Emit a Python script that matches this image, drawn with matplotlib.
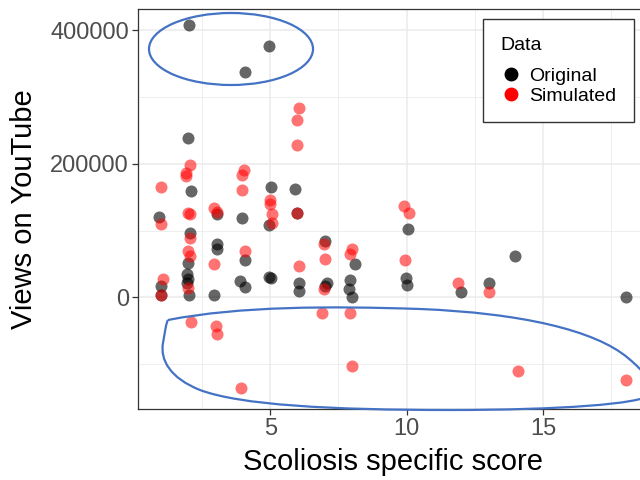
import numpy as np
import matplotlib
matplotlib.use("Agg")
import matplotlib.pyplot as plt
from matplotlib.patches import Ellipse, PathPatch
from matplotlib.path import Path
from matplotlib.lines import Line2D
from matplotlib.transforms import IdentityTransform
from matplotlib.ticker import MultipleLocator

plt.rcParams['font.family'] = ['Liberation Sans', 'DejaVu Sans']

# Original data (score, views)
orig_score = [2.02, 4.94, 4.06, 2.0, 2.08, 5.04, 5.92, 4.94, 5.98, 0.92,
              3.04, 3.96, 2.04, 3.04, 3.04, 2.0, 4.06, 0.98, 1.93, 2.0,
              1.93, 1.01, 2.02, 2.92, 3.9, 4.08, 4.94, 5.04, 6.04, 6.04,
              7.02, 7.08, 7.0, 8.09, 7.94, 7.9, 8.0, 10.05, 9.96, 10.0,
              12.0, 13.03, 13.98, 18.05]
orig_views = [407900, 377200, 338400, 238800, 159300, 165200, 162700, 108500, 126900, 120900,
              124300, 118400, 97000, 79600, 72100, 52200, 56000, 17500, 34800, 27300,
              22400, 4000, 4000, 4000, 24900, 16000, 30900, 29900, 22400, 10000,
              84600, 22400, 17500, 49700, 26400, 12400, 1000, 102000, 29900, 19000,
              7500, 21400, 61700, 0]

# Simulated data (score, views)
sim_score = [6.04, 5.98, 5.98, 2.06, 1.9, 1.9, 1.01, 4.04, 3.96, 3.96,
             5.0, 5.0, 5.08, 5.08, 5.98, 1.01, 2.0, 2.06, 2.92, 3.03,
             2.06, 2.0, 2.06, 2.94, 4.08, 1.05, 2.0, 1.01, 6.07, 6.96,
             7.02, 6.96, 8.0, 7.94, 6.9, 7.92, 2.08, 3.0, 3.04, 7.98,
             3.93, 9.9, 10.08, 9.94, 11.9, 13.03, 14.07, 18.03]
sim_views = [283600, 266100, 228800, 199000, 186600, 181600, 165200, 191500, 184000, 161600,
             146700, 139300, 124300, 111900, 126900, 109400, 126900, 125400, 134300, 128000,
             89600, 69700, 62200, 49700, 69700, 27300, 14900, 4000, 47300, 79600,
             57200, 12400, 72100, 64600, -23400, -23400, -37300, -43300, -54700, -103000,
             -135400, 136900, 126900, 56300, 22400, 7500, -109400, -124300]

fig = plt.figure(figsize=(6.4, 4.8), dpi=100)
ax = fig.add_axes([138 / 640, 71 / 480, 510 / 640, 400 / 480])

ax.scatter(orig_score, orig_views, s=75, color='black', alpha=0.6, linewidths=0, zorder=3)
ax.scatter(sim_score, sim_views, s=75, color='red', alpha=0.55, linewidths=0, zorder=3)

ax.set_xlim(0.15, 18.85)
ax.set_ylim(-167000, 432000)
ax.xaxis.set_major_locator(MultipleLocator(5))
ax.xaxis.set_minor_locator(MultipleLocator(2.5))
ax.yaxis.set_major_locator(MultipleLocator(200000))
ax.yaxis.set_minor_locator(MultipleLocator(100000))
ax.grid(which='major', color='#ebebeb', linewidth=1.1, zorder=0)
ax.grid(which='minor', color='#ebebeb', linewidth=0.6, zorder=0)
ax.set_axisbelow(True)
ax.tick_params(which='major', direction='out', length=4.5, width=0.9, color='#333333',
               labelsize=17, labelcolor='#4d4d4d', pad=2)
ax.tick_params(which='minor', length=0)
for sp in ax.spines.values():
    sp.set_color('#333333')
    sp.set_linewidth(0.9)

ax.set_xlabel('Scoliosis specific score', fontsize=21, labelpad=5.5)
ax.set_ylabel('Views on YouTube', fontsize=21, labelpad=8.5)

# legend
handles = [Line2D([], [], marker='o', linestyle='', color='black', markersize=9),
           Line2D([], [], marker='o', linestyle='', color='red', markersize=9)]
leg = ax.legend(handles, ['Original', 'Simulated'], title='Data', loc='upper right',
                bbox_to_anchor=(634 / 640, 1 - 19 / 480), bbox_transform=fig.transFigure,
                fontsize=14, title_fontsize=14, frameon=True, fancybox=False,
                edgecolor='#333333', framealpha=1, borderaxespad=0, handletextpad=0.4,
                labelspacing=0.1, handlelength=1.1, borderpad=0.9, alignment='left')
leg.get_frame().set_linewidth(1.0)
leg._legend_box.sep = 10

# highlight shapes (pixel coords, y measured from top)
H = 480
blue = '#4472c4'
top = Ellipse((231, H - 49), 164, 72, fill=False, edgecolor=blue, linewidth=1.6,
              transform=IdentityTransform(), clip_on=False, zorder=5)
fig.patches.append(top)

pts = [(168, 320),
       (240, 306), (330, 306), (420, 309),
       (520, 313), (595, 330), (628, 358),
       (645, 372), (655, 385), (650, 395),
       (640, 404), (560, 410), (450, 410),
       (330, 410), (240, 405), (200, 390),
       (170, 378), (160, 360), (163, 343),
       (165, 332), (166, 323), (168, 320)]
codes = [Path.MOVETO] + [Path.CURVE4] * (len(pts) - 1)
verts = [(x, H - y) for x, y in pts]
bottom = PathPatch(Path(verts, codes), fill=False, edgecolor=blue, linewidth=1.6,
                   transform=IdentityTransform(), clip_on=False, zorder=5)
fig.patches.append(bottom)

fig.savefig('out.png', dpi=100)
